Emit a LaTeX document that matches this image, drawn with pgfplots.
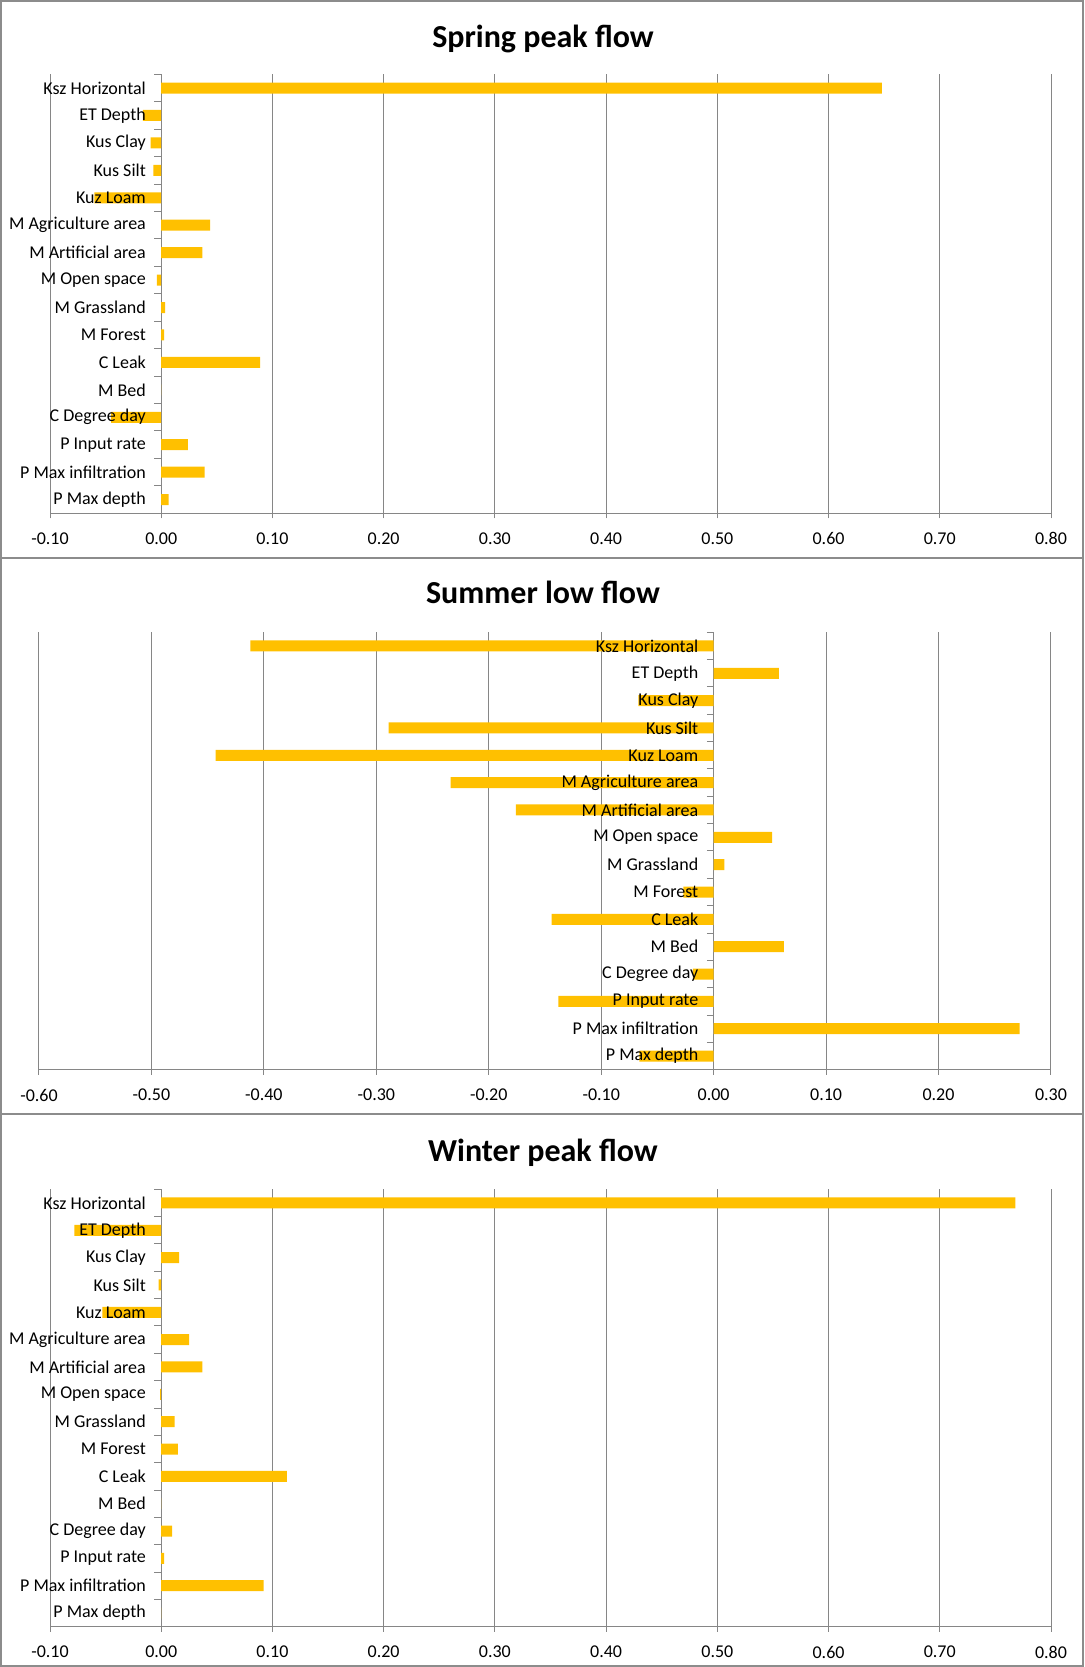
\documentclass[border=0pt]{standalone}
\usepackage{pgfplots}
\pgfplotsset{compat=1.18}
\usepackage{pgfplotstable}
\usepackage{fontspec}
\setmainfont{Carlito}
\definecolor{bargold}{RGB}{255,192,0}
\definecolor{gridgray}{RGB}{134,134,134}
\definecolor{framegray}{RGB}{140,140,140}

\pgfplotstableread{
idx val
0 0.648
1 -0.0165
2 -0.0096
3 -0.007
4 -0.060
5 0.044
6 0.037
7 -0.004
8 0.0036
9 0.0027
10 0.089
11 0
12 -0.045
13 0.024
14 0.039
15 0.0066
}\spring
\pgfplotstableread{
idx val
0 -0.412
1 0.058
2 -0.067
3 -0.289
4 -0.443
5 -0.234
6 -0.176
7 0.052
8 0.0095
9 -0.027
10 -0.144
11 0.0625
12 -0.0185
13 -0.138
14 0.272
15 -0.066
}\summer
\pgfplotstableread{
idx val
0 0.768
1 -0.078
2 0.016
3 -0.0024
4 -0.053
5 0.025
6 0.037
7 -0.001
8 0.012
9 0.015
10 0.113
11 0
12 0.0099
13 0.0027
14 0.092
15 0
}\winter

\pgfplotsset{
  panel/.style={
    scale only axis,
    xbar, bar width=5.5pt,
    axis x line*=bottom, axis y line*=middle,
    hide obscured x ticks=false, hide obscured y ticks=false,
    enlargelimits=false,
    ymin=-0.5, ymax=15.5, y dir=reverse,
    ytick={0,...,15},
    minor ytick={-0.5,0.5,...,15.5},
    major y tick style={draw=none},
    minor y tick style={draw=gridgray, line width=0.5pt},
    minor tick length=3.4pt,
    major tick length=2.5pt,
    ytick align=outside,
    xtick align=outside,
    x tick style={draw=gridgray, line width=0.5pt},
    axis line style={draw=gridgray, line width=0.5pt},
    xmajorgrids,
    major grid style={draw=gridgray, line width=0.5pt},
    ticklabel style={font=\fontsize{9}{10}\selectfont, text=black},
    /pgf/number format/fixed,
    /pgf/number format/fixed zerofill,
    /pgf/number format/precision=2,
    /pgf/number format/assume math mode=true,
    yticklabel style={anchor=east, inner sep=0pt, xshift=-5pt},
    xticklabel style={anchor=north, inner sep=0pt, yshift=-7pt},
  },
  base/.style={panel, yticklabels={}},
  labels/.style={panel,
    yticklabels={Ksz Horizontal,ET Depth,Kus Clay,Kus Silt,Kuz Loam,M Agriculture area,M Artificial area,M Open space,M Grassland,M Forest,C Leak,M Bed,C Degree day,P Input rate,P Max infiltration,P Max depth},
    xticklabels={}, xmajorgrids=false,
    axis line style={draw=none},
    minor y tick style={draw=none}, x tick style={draw=none}},
}
\tikzset{panel title/.style={font=\fontsize{16}{18}\selectfont\bfseries}}

\begin{document}
\begin{tikzpicture}
\useasboundingbox (0,0) rectangle (542pt,833.5pt);
% frames
\draw[framegray, line width=1pt] (0.5pt,554.5pt) rectangle (541.5pt,833pt);
\draw[framegray, line width=1pt] (0.5pt,276.5pt) rectangle (541.5pt,554.5pt);
\draw[framegray, line width=1pt] (0.5pt,0.5pt) rectangle (541.5pt,276.5pt);

\node[panel title] at (271.5pt,814pt) {Spring peak flow};
\node[panel title] at (271.5pt,537.5pt) {Summer low flow};
\node[panel title] at (271.5pt,257pt) {Winter peak flow};

% Spring
\begin{axis}[base, at={(25pt,576.85pt)}, anchor=south west,
  width=500.5pt, height=219.5pt,
  xmin=-0.1, xmax=0.8, xtick={-0.1,0,0.1,0.2,0.3,0.4,0.5,0.6,0.7,0.8}]
\addplot[fill=bargold, draw=none] table[x=val, y=idx] {\spring};
\end{axis}
\begin{axis}[labels, at={(25pt,576.85pt)}, anchor=south west,
  width=500.5pt, height=219.5pt,
  xmin=-0.1, xmax=0.8, xtick={-0.1,0,0.1,0.2,0.3,0.4,0.5,0.6,0.7,0.8}]
\end{axis}

% Summer
\begin{axis}[base, at={(19.5pt,298.65pt)}, anchor=south west,
  width=506pt, height=218.7pt,
  xmin=-0.6, xmax=0.3, xtick={-0.6,-0.5,-0.4,-0.3,-0.2,-0.1,0,0.1,0.2,0.3}]
\addplot[fill=bargold, draw=none] table[x=val, y=idx] {\summer};
\end{axis}
\begin{axis}[labels, at={(19.5pt,298.65pt)}, anchor=south west,
  width=506pt, height=218.7pt,
  xmin=-0.6, xmax=0.3, xtick={-0.6,-0.5,-0.4,-0.3,-0.2,-0.1,0,0.1,0.2,0.3}]
\end{axis}

% Winter
\begin{axis}[base, at={(25pt,20.15pt)}, anchor=south west,
  width=500.5pt, height=218.7pt,
  xmin=-0.1, xmax=0.8, xtick={-0.1,0,0.1,0.2,0.3,0.4,0.5,0.6,0.7,0.8}]
\addplot[fill=bargold, draw=none] table[x=val, y=idx] {\winter};
\end{axis}
\begin{axis}[labels, at={(25pt,20.15pt)}, anchor=south west,
  width=500.5pt, height=218.7pt,
  xmin=-0.1, xmax=0.8, xtick={-0.1,0,0.1,0.2,0.3,0.4,0.5,0.6,0.7,0.8}]
\end{axis}
\end{tikzpicture}
\end{document}
